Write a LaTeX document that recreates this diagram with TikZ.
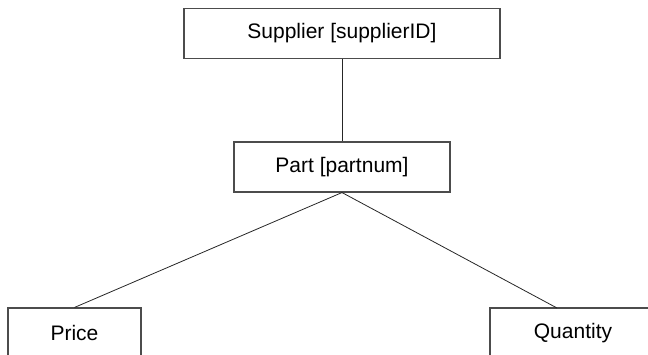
\documentclass[tikz,border=0pt]{standalone}
\usepackage{fontspec}
\setmainfont{Liberation Sans}
\begin{document}
\begin{tikzpicture}[x=1pt, y=-1pt, every node/.style={font=\fontsize{21}{25}\selectfont},
  entbox/.style={draw=black!70, line width=1.1pt, minimum height=50pt, inner sep=0pt},
  link/.style={draw=black!85, line width=0.8pt}]
  \useasboundingbox (0,0) rectangle (648,354);
  \clip (0,0) rectangle (648,354);
  \node[entbox, minimum width=316pt] (supplier) at (342,33.5) {Supplier [supplierID]};
  \node[entbox, minimum width=216pt] (part) at (342,167) {Part [partnum]};
  \node[entbox, minimum width=133pt] (price) at (74.5,333) {Price};
  \node[entbox, minimum width=166pt] (quantity) at (573,333) {Quantity};
  \coordinate (qtop) at (557,308);
  \draw[link] (supplier.south) -- (part.north);
  \draw[link] (part.south) -- (price.north);
  \draw[link] (part.south) -- (qtop);
\end{tikzpicture}
\end{document}
